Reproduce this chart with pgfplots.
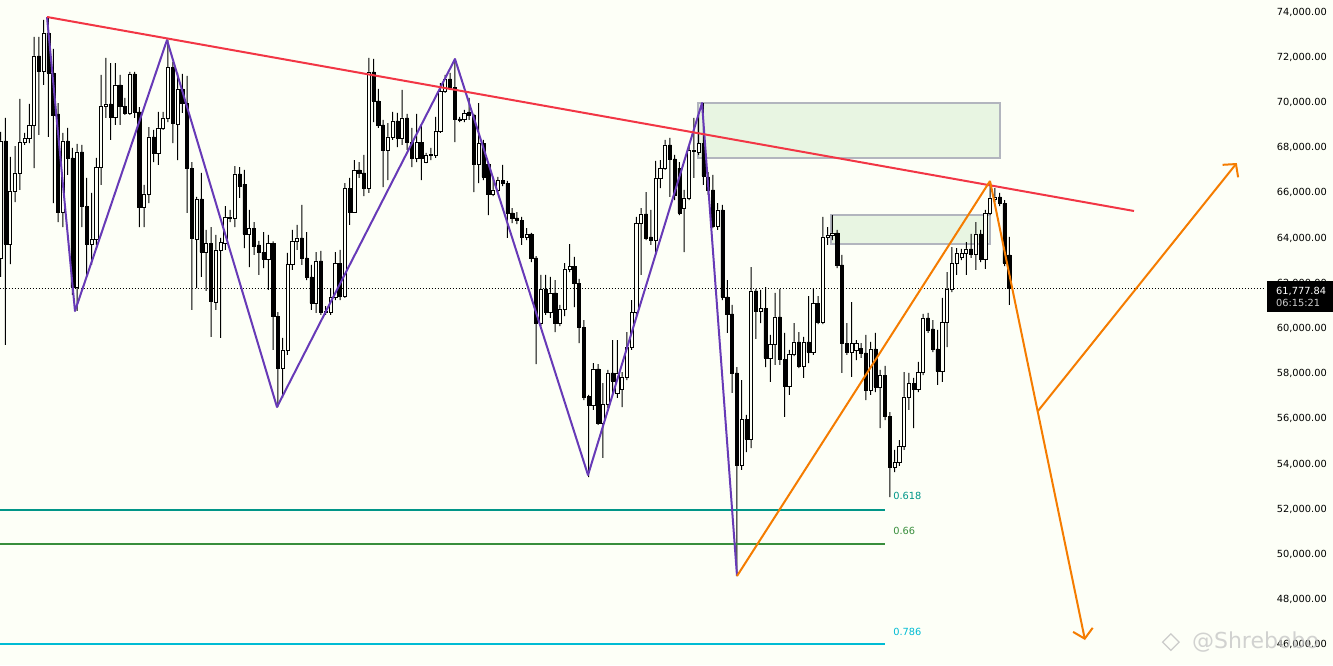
\documentclass[border=0pt]{standalone}
\usepackage{pgfplots}
\pgfplotsset{compat=1.18}
\usepackage{pgfplotstable}
\usepackage{fontspec}
\setmainfont{DejaVu Sans}
\usetikzlibrary{arrows.meta,shapes.geometric}
\definecolor{bgc}{RGB}{253,255,247}
\definecolor{boxfill}{RGB}{232,245,226}
\definecolor{boxdraw}{RGB}{178,181,190}
\definecolor{zred}{RGB}{242,54,69}
\definecolor{zpurple}{RGB}{103,58,183}
\definecolor{zorange}{RGB}{245,124,0}
\definecolor{fibteal}{RGB}{0,150,136}
\definecolor{fibgreen}{RGB}{56,142,60}
\definecolor{fibcyan}{RGB}{0,188,212}
\newcommand\tl{\fontsize{9.8}{11}\selectfont}
\pgfplotsset{base/.style={at={(0pt,0pt)}, anchor=south west, scale only axis,
  width=1333pt, height=665pt, xmin=-0.146, xmax=278.72, ymin=45105, ymax=74531,
  axis line style={draw=none}, major tick length=0pt, xtick=\empty, ytick=\empty}}
\pgfplotstableread{
O H L C
63115 68690 62274 68292
68292 69310 59265 63734
63734 67584 62849 66080
66080 68070 65592 66876
66876 70151 66124 68247
68247 68646 68115 68425
68425 69929 68203 69000
69000 72894 67097 72053
72053 72894 68558 71390
71390 73646 70770 73071
73071 73779 68469 71301
71301 72363 65548 69443
69487 69973 64707 65150
65150 68646 64486 68292
68292 68867 66788 67540
67540 67982 61478 61831
61831 68159 60770 67805
67805 68115 64486 65415
65415 66655 62318 63734
63734 65991 62805 63956
63956 67540 63690 67141
67141 71213 66345 69840
69840 71965 69310 69929
69929 71743 68336 69354
69354 71743 69000 70770
70770 71213 69000 69840
69840 70195 69443 69531
69531 71345 69443 71257
71257 71345 69310 69575
69575 69796 64486 65371
65371 66345 64486 65947
65947 68911 65548 68469
68469 68779 67362 67761
67761 69575 67230 68867
68867 69575 68779 69310
69310 72761 69132 71566
71566 71787 68203 69088
69044 71301 67451 70593
70593 71257 69531 69973
69973 71168 65106 67097
67097 67362 60814 64000
63956 65814 61787 65726
65726 66876 62274 63380
63380 64354 61655 63778
63778 64486 59619 61212
61167 64133 60814 63469
63469 64000 59575 63822
63778 65415 63469 64929
64885 65239 64707 64929
64885 67185 64486 66832
66832 67141 65770 66300
66389 67009 63557 64177
64177 65239 62716 64442
64442 64707 63248 63645
63690 63867 62363 63380
63380 64265 62672 63071
63071 64133 61699 63778
63778 63850 59044 60548
60548 60725 56521 58247
58247 59575 56920 59044
59044 63336 58823 62849
62849 64354 62584 63867
63867 64575 63469 64000
64000 65460 62805 63115
63115 64265 62141 62274
62274 62805 60814 61123
61123 63380 60681 62982
62982 63425 60593 60725
60725 60990 60593 60770
60725 61787 60593 61389
61389 63380 61256 62893
62893 63469 61256 61433
61433 66433 61345 66212
66212 66655 64575 65150
65150 67451 65106 67009
67009 67362 66655 66876
66876 67673 65858 66212
66212 71965 65991 71345
71345 71921 69132 70062
70062 70593 68867 69000
69000 69221 66256 67894
67894 69088 66566 68469
68469 69575 68336 69177
69177 69531 68026 68425
68425 70549 68115 69310
69310 69487 67894 68247
68247 68867 67141 67540
67540 69487 67362 68247
68247 68955 66566 67540
67362 67761 67318 67673
67673 67982 67451 67717
67673 69354 67540 68735
68735 70858 68646 70505
70505 71213 70416 71036
71036 71301 70549 70681
70681 71921 68247 69266
69266 69354 69132 69221
69266 69664 69132 69531
69575 70195 69221 69443
69443 69487 66035 67274
67274 69973 66433 68203
68203 68336 66566 66699
67274 67362 65017 65947
65947 66699 65858 66124
66124 66699 66035 66566
66566 67230 66300 66433
66433 66522 64000 65106
65106 65327 64663 64885
64885 65150 64619 64796
64796 64929 63690 64044
64044 64442 63911 64177
64177 64221 62937 63115
63115 63203 58424 60238
60238 62363 60105 61743
61743 62363 60593 60725
60725 62274 60460 61566
61566 62141 59840 60238
60238 61035 60105 60858
60858 62893 60548 62628
62628 63734 62495 62760
62760 63159 60946 62008
62008 62186 59353 60061
60061 60371 56831 56964
57008 57053 53424 56610
56610 58468 56389 58203
58203 58424 55725 55813
55813 57583 54265 56654
56654 58159 56477 58026
58026 59486 57141 57672
57141 59486 56920 58026
57318 58070 56521 57849
57849 59840 57716 59176
59176 61256 59044 60725
60725 64929 60548 64663
64663 65327 62363 65062
65062 66035 63911 64000
64044 65239 63690 63911
63911 67407 63248 66655
66655 67451 66212 67097
67097 68336 67009 68115
68115 68425 65814 67496
67496 67673 65681 65903
67097 67362 65017 65106
65327 66124 63380 65770
65770 68115 65681 67894
67850 69310 66655 67894
67805 69443 67673 68203
68203 69973 66345 66743
66699 66920 65903 66124
66124 66788 64442 64530
64530 65548 64354 65239
65239 65460 61256 61389
61389 62141 59796 60637
60637 61035 57141 58026
58026 58291 49043 53955
53955 57716 53734 55990
55990 56168 54530 55105
55105 62716 54707 61655
61655 61743 59531 60770
60770 61699 60238 60902
60902 61831 58291 58690
58690 59708 57628 59309
59309 61566 58380 60504
60504 61743 58380 58645
58645 59796 56079 57451
57451 59044 57053 58867
58867 60238 58778 59398
59398 59840 58247 58336
58336 59619 57805 59398
59398 61433 58468 58955
58955 61787 58823 61123
61123 61433 60194 60282
60282 64929 60194 64044
64044 64486 63690 64133
64133 65017 63911 64221
64221 64354 62672 62805
62805 63248 58026 59353
59353 60238 58823 58955
58955 61167 57849 59353
59044 59486 58601 59353
59132 59353 58690 58911
58911 59708 56831 57274
57274 59398 57053 59088
59088 59796 57185 57407
57407 58159 55592 57937
57937 58336 55946 56123
56123 56300 52539 53866
53866 54619 53645 54088
54088 55061 53911 54796
54796 58070 54619 56964
56964 58026 56389 57583
57583 57805 55592 57318
57318 58513 57185 58070
58070 60637 57937 60460
60460 60681 59796 59929
59973 60371 58955 59088
59088 59929 57495 58114
58114 61345 57628 60282
60282 62495 59176 61743
61743 63601 61610 62893
62893 63557 62363 63336
63159 63513 63026 63336
63336 63822 62363 63513
63513 64177 63115 63292
63292 64707 62584 64177
64177 64354 62937 63071
63071 65239 62628 65106
65106 66522 65017 65770
65726 66212 65592 65814
65814 65991 65415 65548
65548 65681 62760 62893
63248 64044 61035 61778
}\candles
\begin{document}
\begin{tikzpicture}
\fill[bgc] (0pt,0pt) rectangle (1333pt,665pt);
% background layer: last price line, zones, price scale
\begin{axis}[base, ytick={46000,48000,...,74000}, yticklabel pos=right,
  scaled y ticks=false,
  yticklabel style={font=\tl, text=black, anchor=east, inner sep=0pt, xshift=-6pt,
    /pgf/number format/.cd, fixed, fixed zerofill, precision=2, 1000 sep={,}, assume math mode=true}]
\addplot[black, line width=0.9pt, dash pattern=on 1pt off 2pt] coordinates {(-0.2,61778) (264.5,61778)};
\addplot[fill=boxfill, draw=boxdraw, line width=1.8pt] coordinates {(145.9,69970) (209.1,69970) (209.1,67540) (145.9,67540)} -- cycle;
\addplot[fill=boxfill, draw=boxdraw, line width=1.8pt] coordinates {(173.7,65017) (207.0,65017) (207.0,63734) (173.7,63734)} -- cycle;
\end{axis}
% wicks
\begin{axis}[base, ybar stacked, bar width=1pt]
\addplot[draw=none, fill=none] table[x expr=\coordindex, y=L] {\candles};
\addplot[draw=none, fill=black] table[x expr=\coordindex, y expr=\thisrow{H}-\thisrow{L}] {\candles};
\end{axis}
% bodies
\begin{axis}[base, ybar stacked, bar width=3.2pt]
\addplot[draw=none, fill=none] table[x expr=\coordindex, y expr={min(\thisrow{O},\thisrow{C})}] {\candles};
\addplot[draw=black, fill=bgc, line width=0.75pt] table[x expr=\coordindex, y expr={max(\thisrow{C}-\thisrow{O},0)}] {\candles};
\addplot[draw=black, fill=black, line width=0.5pt] table[x expr=\coordindex, y expr={max(\thisrow{O}-\thisrow{C},0)}] {\candles};
\end{axis}
% drawings
\begin{axis}[base]
\addplot[color=fibteal, line width=1.1pt] coordinates {(-0.2,51964) (185.0,51964)};
\addplot[color=fibgreen, line width=1.1pt] coordinates {(-0.2,50459) (185.0,50459)};
\addplot[color=fibcyan, line width=1.1pt] coordinates {(-0.2,46034) (185.0,46034)};
\addplot[zpurple, line width=2pt, line join=round] coordinates {
 (9.69,73779) (15.54,60769) (34.79,72761) (57.8,56521) (95.04,71920) (122.87,53512) (146.72,69973) (154.04,49043)};
\addplot[zred, line width=2pt] coordinates {(9.69,73779) (237.1,65194)};
\addplot[zorange, line width=2pt] coordinates {(154.04,49043) (206.97,66522)};
\addplot[zorange, line width=2pt, -{Straight Barb[length=9pt,width=20pt]}] coordinates {(206.97,66522) (226.84,46211)};
\addplot[zorange, line width=2pt, -{Straight Barb[length=9pt,width=20pt]}] coordinates {(217.0,56344) (258.6,67318)};
\node[anchor=west, inner sep=0pt, font=\tl, text=fibteal] at (axis cs:186.7,52570) {0.618};
\node[anchor=west, inner sep=0pt, font=\tl, text=fibgreen] at (axis cs:186.7,51020) {0.66};
\node[anchor=west, inner sep=0pt, font=\tl, text=fibcyan] at (axis cs:186.7,46565) {0.786};
\addplot[fill=black, draw=none] coordinates {(264.9,62097) (278.8,62097) (278.8,60725) (264.9,60725)} -- cycle;
\node[anchor=west, inner sep=0pt, font=\tl, text=white] at (axis cs:266.8,61655) {61,777.84};
\node[anchor=west, inner sep=0pt, font=\tl, text=black!20] at (axis cs:266.8,61123) {06:15:21};
\node[diamond, draw=black!25, line width=1.2pt, minimum size=17pt, inner sep=0pt, opacity=0.8] at (axis cs:244.8,46120) {};
\node[anchor=west, inner sep=0pt, font=\fontsize{22}{24}\selectfont, text=black!22, opacity=0.8] at (axis cs:249.2,46120) {@Shrebobo};
\end{axis}
\pgfresetboundingbox
\path[use as bounding box] (0pt,0pt) rectangle (1333pt,665pt);
\end{tikzpicture}
\end{document}
